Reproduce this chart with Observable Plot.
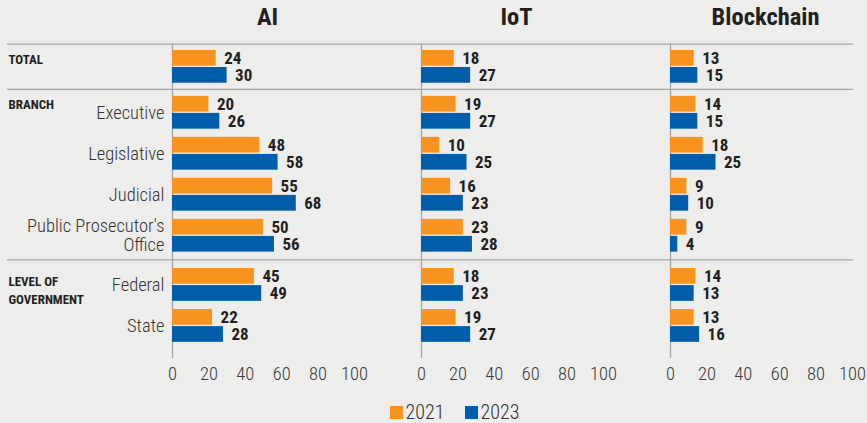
<!DOCTYPE html>
<html><head><meta charset="utf-8">
<script src="https://cdn.jsdelivr.net/npm/d3@7"></script>
<script src="https://cdn.jsdelivr.net/npm/@observablehq/plot@0.6"></script>
<style>
html,body{margin:0;padding:0;background:#ededeb;}
#chart{width:867px;height:423px;position:relative;font-family:"Roboto Condensed","Liberation Sans Narrow",sans-serif;}
#chart svg{display:block;}
g[aria-label="group-labels"] text{letter-spacing:-0.5px;}
g[aria-label="value-labels"] text{letter-spacing:-0.2px;}
.legend{display:flex;justify-content:center;align-items:center;padding-left:42px;margin-top:4px;height:26px;font-size:20px;font-weight:300;color:#333;}
.legend .item{display:flex;align-items:center;margin-right:20px;}
.legend .item:last-child{margin-right:0;}
.legend .sw{display:inline-block;width:13px;height:13px;margin-right:3px;}
</style></head><body><div id="chart"></div>
<script>
// ---- data ----
const technologies = ["AI", "IoT", "Blockchain"];
const years = ["2021", "2023"];
const colors = ["#F7931E", "#005DAA"];
const groups = ["TOTAL", "BRANCH", "LEVEL OF\nGOVERNMENT"];
const rowLabels = ["", "Executive", "Legislative", "Judicial", "Public Prosecutor's\nOffice", "Federal", "State"];
const rowGroup = [0, 1, 1, 1, 1, 2, 2];
const ai2021 = [24, 20, 48, 55, 50, 45, 22];
const ai2023 = [30, 26, 58, 68, 56, 49, 28];
const iot2021 = [18, 19, 10, 16, 23, 18, 19];
const iot2023 = [27, 27, 25, 23, 28, 23, 27];
const bc2021 = [13, 14, 18, 9, 9, 14, 13];
const bc2023 = [15, 15, 25, 10, 4, 13, 16];
const xTicks = [0, 20, 40, 60, 80, 100];

// ---- layout (not data) ----
const FONT = '"Roboto Condensed","Liberation Sans Narrow",sans-serif';
const groupGap = [0, 0.12, 0.2];
const barSlots = [[0.1, 0.484], [0.516, 0.9]];

const rowPos = [];
let offset = 0;
rowLabels.forEach((_, i) => {
  if (i > 0 && rowGroup[i] !== rowGroup[i - 1]) offset += groupGap[rowGroup[i]];
  rowPos.push(i + offset);
});

const series = {AI: [ai2021, ai2023], IoT: [iot2021, iot2023], Blockchain: [bc2021, bc2023]};
const bars = [];
technologies.forEach(tech => {
  series[tech].forEach((vals, yi) => {
    vals.forEach((v, i) => {
      bars.push({tech, year: years[yi], value: v,
        y1: rowPos[i] + barSlots[yi][0], y2: rowPos[i] + barSlots[yi][1]});
    });
  });
});
const rows = rowLabels.map((label, i) => ({tech: technologies[0], label, y: rowPos[i] + 0.5}));
const groupRows = groups.map((label, g) => {
  const first = rowGroup.indexOf(g);
  return {tech: technologies[0], label, y: rowPos[first] + (g === 2 ? 0.2 : 0.1), first};
});

const plot = Plot.plot({
  width: 867,
  height: 395,
  marginLeft: 171,
  marginRight: 15,
  marginTop: 44,
  marginBottom: 37,
  style: {background: "transparent", fontFamily: FONT, overflow: "visible"},
  fx: {domain: technologies, paddingInner: 0.2705, paddingOuter: 0},
  x: {domain: [0, 100]},
  y: {domain: [-0.045, 7.614], reverse: true, axis: null},
  color: {domain: years, range: colors},
  marks: [
    Plot.ruleX([0], {stroke: "#a5a5a5", strokeWidth: 1.3}),
    Plot.rect(bars, {fx: "tech", x1: 0, x2: "value", y1: "y1", y2: "y2", fill: "year"}),
    Plot.text(bars, {fx: "tech", x: "value", y: d => (d.y1 + d.y2) / 2, text: d => String(d.value),
      dx: 8, textAnchor: "start", fontWeight: "bold", fontSize: 17, fill: "#231f20", ariaLabel: "value-labels"}),
    Plot.text(rows, {fx: "tech", x: 0, y: "y", text: "label", textAnchor: "end", dx: -8,
      fontSize: 18.5, fontWeight: 300, lineHeight: 1, fill: "#333"}),
    Plot.text(groupRows, {fx: "tech", x: 0, y: "y", text: "label", textAnchor: "start", lineAnchor: "top",
      dx: -164, fontWeight: "bold", fontSize: 13, lineHeight: 1.42, fill: "#231f20", ariaLabel: "group-labels"}),
    Plot.axisFx({anchor: "top", tickSize: 0, tickPadding: 20, fontSize: 24.5, fontWeight: "bold",
      fill: "#231f20", label: null, dx: 4}),
    Plot.axisX(xTicks, {anchor: "bottom", tickSize: 0, tickPadding: 8, fontSize: 18.5, fontWeight: 300,
      fill: "#3a3a3a", label: null})
  ]
});

// full-width group separators, positioned through Plot's y scale
const yScale = plot.scale("y");
const sepVals = groupRows.map((g, k) => k === 0 ? rowPos[0] - 0.04
  : (rowPos[g.first - 1] + 1 + rowPos[g.first]) / 2);
const svg = d3.select(plot);
svg.insert("g", ":first-child").attr("aria-label", "separators")
  .selectAll("line").data(sepVals).join("line")
  .attr("x1", 7).attr("x2", 853)
  .attr("y1", v => yScale.apply(v)).attr("y2", v => yScale.apply(v))
  .attr("stroke", "#a5a5a5").attr("stroke-width", 1.3);

const chart = document.getElementById("chart");
chart.appendChild(plot);

const legend = document.createElement("div");
legend.className = "legend";
years.forEach((y, i) => {
  const item = document.createElement("div");
  item.className = "item";
  const sw = document.createElement("span");
  sw.className = "sw";
  sw.style.background = colors[i];
  item.appendChild(sw);
  item.appendChild(document.createTextNode(y));
  legend.appendChild(item);
});
chart.appendChild(legend);
</script></body></html>
